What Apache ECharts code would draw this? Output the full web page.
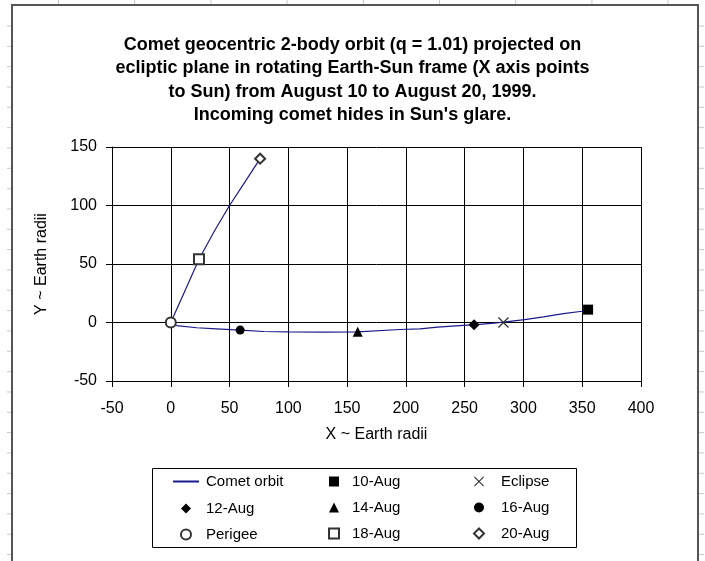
<!DOCTYPE html>
<html>
<head>
<meta charset="utf-8">
<script src="https://cdn.jsdelivr.net/npm/echarts@6/dist/echarts.min.js"></script>
<style>
  html, body { margin: 0; padding: 0; background: #fff; }
  #chart { width: 705px; height: 561px; }
</style>
</head>
<body>
<div id="chart"></div>
<script>
// Comet orbit path (Earth radii), in time order from 10-Aug to 20-Aug
const orbitX = [355, 350, 334, 317, 301, 283, 277, 258, 252, 227, 212, 195, 159, 130, 100, 79, 59, 39, 22, 5, 0, 12, 24, 37, 50, 63, 76];
const orbitY = [11, 9.6, 7.6, 4.8, 2.5, 0.3, -0.3, -2, -2.3, -4, -5.4, -6, -8, -8.2, -8, -7.7, -6.5, -5.4, -4.5, -2.6, 0, 27, 54, 78, 100, 120, 140];

// Marked positions along the orbit
const markerNames = ['10-Aug', 'Eclipse', '12-Aug', '14-Aug', '16-Aug', 'Perigee', '18-Aug', '20-Aug'];
const markerX = [355, 283, 258, 159, 59, 0, 24, 76];
const markerY = [11, 0, -2, -8, -6.5, 0, 54, 140];

// Axis ranges and ticks
const xTicks = [-50, 0, 50, 100, 150, 200, 250, 300, 350, 400];
const yTicks = [-50, 0, 50, 100, 150];

const titleText = 'Comet geocentric 2-body orbit (q = 1.01) projected on\n' +
  'ecliptic plane in rotating Earth-Sun frame (X axis points\n' +
  'to Sun) from August 10 to August 20, 1999.\n' +
  'Incoming comet hides in Sun\'s glare.';

const FONT = '"Liberation Sans", Arial, sans-serif';
const CROSS = 'path://M0,0.8L0.8,0L5,4.2L9.2,0L10,0.8L5.8,5L10,9.2L9.2,10L5,5.8L0.8,10L0,9.2L4.2,5Z';

const markerStyles = {
  '10-Aug':  { symbol: 'rect', size: 10, color: '#000' },
  'Eclipse': { symbol: CROSS, size: 11, color: '#333' },
  '12-Aug':  { symbol: 'diamond', size: 11, color: '#000' },
  '14-Aug':  { symbol: 'triangle', size: 10, color: '#000' },
  '16-Aug':  { symbol: 'circle', size: 9, color: '#000' },
  'Perigee': { symbol: 'emptyCircle', size: 10, color: '#333' },
  '18-Aug':  { symbol: 'emptyRect', size: 10, color: '#333' },
  '20-Aug':  { symbol: 'emptyDiamond', size: 10, color: '#333' }
};

const chart = echarts.init(document.getElementById('chart'), null, { renderer: 'canvas' });

const series = [{
  name: 'Comet orbit',
  type: 'line',
  data: orbitX.map((x, i) => [x, orbitY[i]]),
  symbol: 'none',
  smooth: false,
  lineStyle: { color: '#1a1a8c', width: 1.2 },
  itemStyle: { color: '#1a1a8c' },
  z: 2
}];
markerNames.forEach((name, i) => {
  const s = markerStyles[name];
  series.push({
    name: name,
    type: 'scatter',
    data: [[markerX[i], markerY[i]]],
    symbol: s.symbol,
    symbolSize: s.size,
    itemStyle: { color: s.color, borderColor: s.color, borderWidth: s.symbol.indexOf('empty') === 0 ? 1 : 0, opacity: 1 },
    z: 3
  });
});

// Spreadsheet cell edges peeking out beside the chart frame
const sheetTicks = [];
for (let k = 0; k < 27; k++) {
  const y = 26 + 20.33 * k;
  sheetTicks.push({ type: 'line', shape: { x1: 7, y1: y, x2: 11, y2: y }, style: { stroke: '#c8c8c8', lineWidth: 1 }, silent: true });
  sheetTicks.push({ type: 'line', shape: { x1: 699, y1: y, x2: 704, y2: y }, style: { stroke: '#c8c8c8', lineWidth: 1 }, silent: true });
}
for (let k = 0; k < 9; k++) {
  const x = 58.5 + 76.2 * k;
  sheetTicks.push({ type: 'line', shape: { x1: x, y1: 0, x2: x, y2: 4 }, style: { stroke: '#c8c8c8', lineWidth: 1 }, silent: true });
}

function legendCol(left, top, width, textPad, names) {
  return {
    orient: 'vertical',
    left: left,
    top: top,
    itemWidth: width,
    itemHeight: 10,
    itemGap: 11,
    selectedMode: false,
    padding: 0,
    symbolKeepAspect: true,
    textStyle: { fontFamily: FONT, fontSize: 15, color: '#000', padding: [0, 0, 0, textPad] },
    data: names
  };
}

chart.setOption({
  animation: false,
  backgroundColor: '#fff',
  title: {
    text: titleText,
    left: 'center',
    top: 28,
    textStyle: {
      fontFamily: FONT,
      fontSize: 18,
      fontWeight: 'bold',
      color: '#000',
      lineHeight: 23.5
    }
  },
  grid: { left: 112, right: 64, top: 147, bottom: 180, containLabel: false },
  xAxis: {
    type: 'value',
    min: xTicks[0],
    max: xTicks[xTicks.length - 1],
    interval: 50,
    name: 'X ~ Earth radii',
    nameLocation: 'middle',
    nameGap: 46,
    nameTextStyle: { fontFamily: FONT, fontSize: 16, color: '#000' },
    axisLine: { onZero: false, lineStyle: { color: '#000', width: 1 } },
    axisTick: { show: true, inside: false, length: 6, lineStyle: { color: '#000' } },
    axisLabel: { fontFamily: FONT, fontSize: 16, color: '#000', margin: 20 },
    splitLine: { show: true, lineStyle: { color: '#000', width: 1 } }
  },
  yAxis: {
    type: 'value',
    min: yTicks[0],
    max: yTicks[yTicks.length - 1],
    interval: 50,
    name: 'Y ~ Earth radii',
    nameLocation: 'middle',
    nameGap: 62,
    nameTextStyle: { fontFamily: FONT, fontSize: 16, color: '#000' },
    axisLine: { show: true, onZero: false, lineStyle: { color: '#000', width: 1 } },
    axisTick: { show: true, inside: false, length: 6, lineStyle: { color: '#000' } },
    axisLabel: { fontFamily: FONT, fontSize: 16, color: '#000', margin: 15 },
    splitLine: { show: true, lineStyle: { color: '#000', width: 1 } }
  },
  legend: [
    legendCol(172, 474, 26, 2, [{ name: 'Comet orbit', itemStyle: { color: 'rgba(0,0,0,0)', borderWidth: 0 } }]),
    legendCol(180, 501, 10, 10, ['12-Aug', 'Perigee']),
    legendCol(328, 474, 10, 8, ['10-Aug', '14-Aug', '18-Aug']),
    legendCol(473, 474, 10, 12, ['Eclipse', '16-Aug', '20-Aug'])
  ],
  graphic: [
    { type: 'rect', shape: { x: 12, y: 5, width: 686, height: 580 }, style: { fill: null, stroke: '#555', lineWidth: 2 }, silent: true, z: 100 },
    { type: 'rect', shape: { x: 152.5, y: 468.5, width: 424, height: 79 }, style: { fill: null, stroke: '#000', lineWidth: 1 }, silent: true }
  ].concat(sheetTicks),
  series: series
});
</script>
</body>
</html>
